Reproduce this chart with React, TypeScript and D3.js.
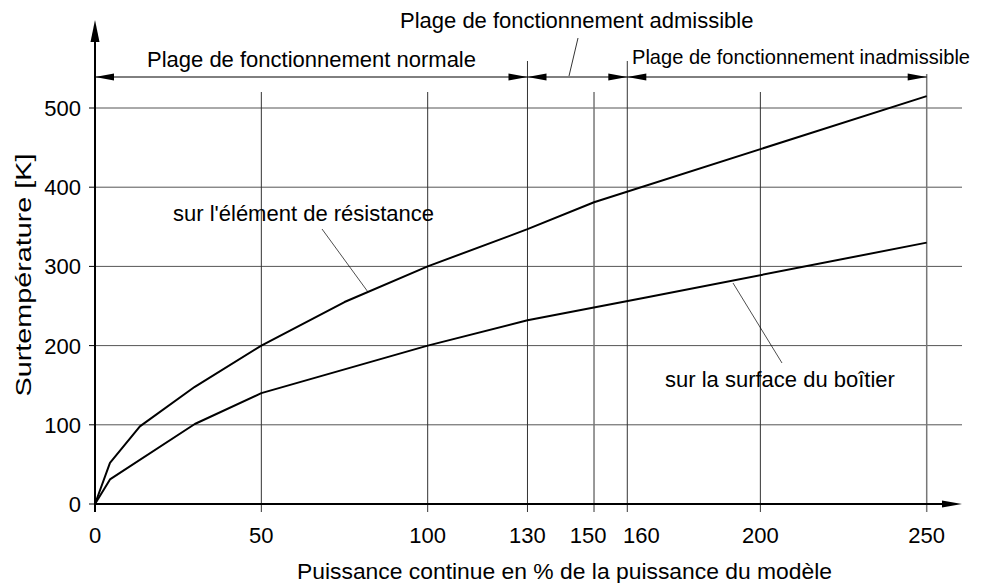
import React from "react";
import * as d3 from "d3";

const xTicks = [0, 50, 100, 130, 150, 160, 200, 250];
const yTicks = [0, 100, 200, 300, 400, 500];
const upperX = [0, 4.5, 13.5, 30, 50, 75, 100, 130, 150, 250];
const upperY = [0, 52, 98, 148, 200, 255, 300, 347, 381, 515];
const lowerX = [0, 4.5, 30, 50, 100, 130, 166, 250];
const lowerY = [0, 31, 101, 140, 200, 232, 261, 330];
const rangeBounds = [0, 130, 160, 250];
const rangeLabels = [
  "Plage de fonctionnement normale",
  "Plage de fonctionnement admissible",
  "Plage de fonctionnement inadmissible",
];
const xTitle = "Puissance continue en % de la puissance du modèle";
const yTitle = "Surtempérature [K]";
const upperLabel = "sur l'élément de résistance";
const lowerLabel = "sur la surface du boîtier";

const W = 997;
const H = 583;
const FONT = "'Liberation Sans', Arial, sans-serif";
const FS = 22;

const x = d3.scaleLinear().domain([0, 250]).range([95, 926.7]);
const y = d3.scaleLinear().domain([0, 500]).range([504, 108]);

const tallLines: Record<number, number> = { 130: 61, 160: 61, 250: 74 };
const labelShift: Record<number, number> = { 150: -6, 160: 14 };

function arrowHead(tipX: number, tipY: number, dir: number, len: number, half: number) {
  const bx = tipX - dir * len;
  return `M${tipX},${tipY}L${bx},${tipY - half}L${bx},${tipY + half}Z`;
}

export default function App() {
  const line = d3
    .line<[number, number]>()
    .x((d) => x(d[0]))
    .y((d) => y(d[1]));
  const upper = upperX.map((v, i) => [v, upperY[i]] as [number, number]);
  const lower = lowerX.map((v, i) => [v, lowerY[i]] as [number, number]);
  const arrowY = 77;
  const x0 = x(0);
  const y0 = y(0);
  const xEnd = 962;
  const yTop = 20;

  return (
    <svg
      width={W}
      height={H}
      style={{ position: "absolute", left: 0, top: 0, background: "#fff" }}
      fontFamily={FONT}
    >
      {yTicks.filter((t) => t > 0).map((t) => (
        <line key={"h" + t} x1={x0} x2={xEnd} y1={y(t)} y2={y(t)} stroke="#555" strokeWidth={1} />
      ))}
      {yTicks.map((t) => (
        <line key={"yt" + t} x1={x0 - 6} x2={x0} y1={y(t)} y2={y(t)} stroke="#000" strokeWidth={1} />
      ))}
      {xTicks.filter((t) => t > 0).map((t) => (
        <line
          key={"v" + t}
          x1={x(t)}
          x2={x(t)}
          y1={tallLines[t] ?? 92}
          y2={y0 + 8}
          stroke={t === 250 || t === 150 ? "#777" : "#333"}
          strokeWidth={t === 250 || t === 150 ? 1.5 : 1}
        />
      ))}
      <path d={line(upper) || ""} fill="none" stroke="#000" strokeWidth={2} strokeLinejoin="round" />
      <path d={line(lower) || ""} fill="none" stroke="#000" strokeWidth={2} strokeLinejoin="round" />
      <line x1={x0} x2={xEnd - 10} y1={y0} y2={y0} stroke="#000" strokeWidth={2} />
      <path d={arrowHead(xEnd, y0, 1, 20, 3.5)} fill="#000" />
      <line x1={x0} x2={x0} y1={y0 + 8} y2={yTop + 10} stroke="#000" strokeWidth={2} />
      <path d={`M${x0},${yTop}L${x0 - 4.5},${yTop + 22}L${x0 + 4.5},${yTop + 22}Z`} fill="#000" />
      {rangeBounds.slice(0, -1).map((b, i) => {
        const a = x(b);
        const c = x(rangeBounds[i + 1]);
        return (
          <g key={"r" + i}>
            <line x1={a} x2={c} y1={arrowY} y2={arrowY} stroke="#000" strokeWidth={1} />
            <path d={arrowHead(a, arrowY, -1, 19, 3.5)} fill="#000" />
            <path d={arrowHead(c, arrowY, 1, 19, 3.5)} fill="#000" />
          </g>
        );
      })}
      <text x={147} y={67} fontSize={FS}>{rangeLabels[0]}</text>
      <text x={400} y={28} fontSize={FS}>{rangeLabels[1]}</text>
      <line x1={578} y1={38} x2={569} y2={76} stroke="#000" strokeWidth={0.8} />
      <text x={632} y={64} fontSize={21} textLength={338} lengthAdjust="spacingAndGlyphs">
        {rangeLabels[2]}
      </text>
      <text x={173} y={221} fontSize={FS}>{upperLabel}</text>
      <line x1={322} y1={229} x2={368} y2={292} stroke="#000" strokeWidth={0.7} />
      <text x={665} y={387} fontSize={FS}>{lowerLabel}</text>
      <line x1={733} y1={283} x2={782} y2={363} stroke="#000" strokeWidth={0.7} />
      {yTicks.map((t) => (
        <text key={"yl" + t} x={81} y={y(t)} dy="0.36em" fontSize={FS} textAnchor="end">
          {t}
        </text>
      ))}
      {xTicks.map((t) => (
        <text key={"xl" + t} x={x(t) + (labelShift[t] ?? 0)} y={543} fontSize={FS} textAnchor="middle">
          {t}
        </text>
      ))}
      <text x={297} y={579} fontSize={FS} textLength={535} lengthAdjust="spacingAndGlyphs">
        {xTitle}
      </text>
      <text
        transform={`translate(31,275) rotate(-90)`}
        fontSize={FS}
        textAnchor="middle"
        textLength={243}
        lengthAdjust="spacingAndGlyphs"
      >
        {yTitle}
      </text>
    </svg>
  );
}
